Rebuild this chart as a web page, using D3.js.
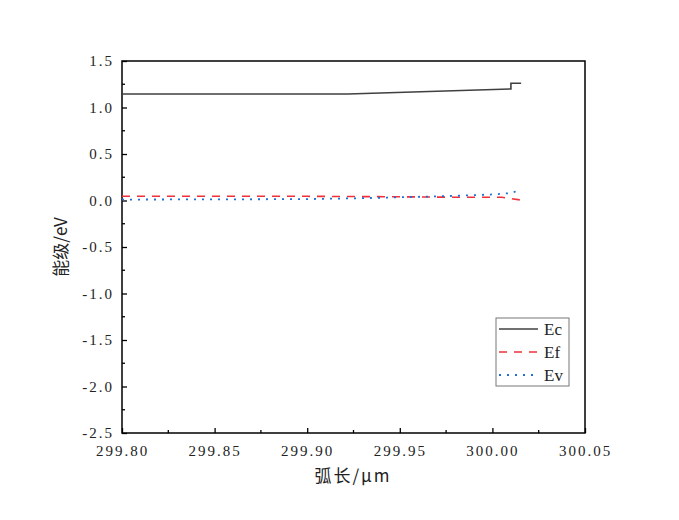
<!DOCTYPE html>
<html><head><meta charset="utf-8">
<script src="https://cdn.jsdelivr.net/npm/d3@7"></script>
<style>body{margin:0;background:#fff}svg{display:block}</style>
</head><body>
<svg id="c" width="679" height="520"></svg>
<script>
const ecX = [299.80, 299.922, 300.010, 300.010, 300.0155];
const ecY = [1.145, 1.145, 1.20, 1.26, 1.26];
const efX = [299.80, 299.85, 299.90, 299.95, 299.98, 300.005, 300.0155];
const efY = [0.046, 0.046, 0.045, 0.040, 0.035, 0.035, 0.005];
const evX = [299.80, 299.85, 299.90, 299.93, 299.95, 299.98, 300.00, 300.01, 300.013, 300.015];
const evY = [0.010, 0.012, 0.015, 0.025, 0.035, 0.050, 0.065, 0.080, 0.100, 0.135];
const xTicks = [299.80, 299.85, 299.90, 299.95, 300.00, 300.05];
const yTicks = [1.5, 1.0, 0.5, 0.0, -0.5, -1.0, -1.5, -2.0, -2.5];
const seriesNames = ["Ec", "Ef", "Ev"];

const svg = d3.select("#c");
const L = 122, R = 585, T = 61, B = 433;
const x = d3.scaleLinear().domain([299.80, 300.05]).range([L, R]);
const y = d3.scaleLinear().domain([-2.5, 1.5]).range([B, T]);
const tickFont = "Liberation Serif";
const cjkFont = "Noto Sans CJK SC";

const xMinor = d3.range(0, 10).map(i => 299.825 + i * 0.05).filter(v => v < 300.05);
const yMinor = d3.range(0, 8).map(i => -2.25 + i * 0.5);

const gx = svg.append("g").attr("transform", `translate(0,${B})`)
  .call(d3.axisBottom(x).tickValues(xTicks).tickSize(-5).tickPadding(9).tickFormat(d3.format(".2f")));
const gy = svg.append("g").attr("transform", `translate(${L},0)`)
  .call(d3.axisLeft(y).tickValues(yTicks).tickSize(-5).tickPadding(8).tickFormat(d => d3.format(".1f")(d).replace("−", "-")));
[gx, gy].forEach(g => {
  g.attr("font-family", tickFont).attr("font-size", 15);
  g.select(".domain").remove();
  g.selectAll("line").attr("stroke", "#000").attr("stroke-width", 1.3);
  g.selectAll("text").style("font-family", tickFont).attr("font-size", 15).attr("fill", "#222").attr("letter-spacing", "2px");
});
gx.selectAll("text").attr("dy", "0.9em");
svg.append("g").selectAll("line").data(xMinor).join("line")
  .attr("x1", d => x(d)).attr("x2", d => x(d)).attr("y1", B).attr("y2", B - 3)
  .attr("stroke", "#000").attr("stroke-width", 1.3);
svg.append("g").selectAll("line").data(yMinor).join("line")
  .attr("x1", L).attr("x2", L + 3).attr("y1", d => y(d)).attr("y2", d => y(d))
  .attr("stroke", "#000").attr("stroke-width", 1.3);

svg.append("rect").attr("x", L).attr("y", T).attr("width", R - L).attr("height", B - T)
  .attr("fill", "none").attr("stroke", "#000").attr("stroke-width", 1.5);

const line = d3.line().x(d => x(d[0])).y(d => y(d[1]));
const series = [
  {name: seriesNames[0], data: d3.zip(ecX, ecY), color: "#404040", dash: null, w: 1.6},
  {name: seriesNames[1], data: d3.zip(efX, efY), color: "#f0303a", dash: "8,7", w: 1.6},
  {name: seriesNames[2], data: d3.zip(evX, evY), color: "#1f6fd6", dash: "2,6", w: 1.8},
];
series.forEach(s => {
  svg.append("path").attr("d", line(s.data)).attr("fill", "none")
    .attr("stroke", s.color).attr("stroke-width", s.w)
    .attr("stroke-dasharray", s.dash);
});

const lg = svg.append("g");
lg.append("rect").attr("x", 496).attr("y", 318).attr("width", 73).attr("height", 68)
  .attr("fill", "#fff").attr("stroke", "#777").attr("stroke-width", 1);
series.forEach((s, i) => {
  const yy = 329 + i * 23;
  lg.append("line").attr("x1", 499).attr("x2", 538).attr("y1", yy).attr("y2", yy)
    .attr("stroke", s.color).attr("stroke-width", s.w).attr("stroke-dasharray", s.dash);
  lg.append("text").attr("x", 544).attr("y", yy).attr("dy", "0.35em")
    .style("font-family", tickFont).attr("font-size", 17).attr("fill", "#222").text(s.name);
});

svg.append("text").attr("x", 353).attr("y", 482).attr("text-anchor", "middle")
  .style("font-family", cjkFont).attr("font-size", 17).attr("fill", "#222").attr("letter-spacing", "2px").text("弧长/μm");
svg.append("text").attr("transform", "translate(67,247) rotate(-90)").attr("text-anchor", "middle")
  .style("font-family", cjkFont).attr("font-size", 17).attr("fill", "#222").text("能级/eV");
</script>
</body></html>
